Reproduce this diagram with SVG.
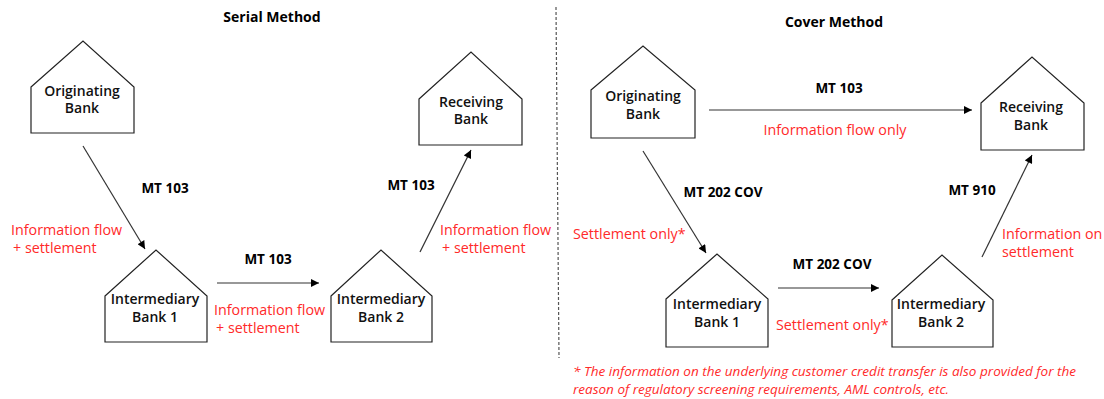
<svg xmlns="http://www.w3.org/2000/svg" width="1104" height="399" viewBox="0 0 1104 399">
<defs>
<marker id="ah" viewBox="0 0 10 10" refX="10" refY="5" markerWidth="9" markerHeight="8" markerUnits="userSpaceOnUse" orient="auto">
<path d="M0,0 L10,5 L0,10 z" fill="#000"/>
</marker>
<style>
.bank{fill:#fff;stroke:#222;stroke-width:1.2}
.nt{font-family:"Open Sans","Noto Sans",sans-serif;font-size:14px;font-weight:600;fill:#111;text-anchor:middle}
.title{font-family:"Open Sans","Noto Sans",sans-serif;font-size:14px;font-weight:bold;fill:#000;text-anchor:middle}
.mt{font-family:"Open Sans","Noto Sans",sans-serif;font-size:13.5px;font-weight:bold;fill:#000;text-anchor:middle}
.red{font-family:"Open Sans","Noto Sans",sans-serif;font-size:14.3px;fill:#ff2a2a}
.note{font-family:"Open Sans","Noto Sans",sans-serif;font-size:13.5px;font-style:italic;fill:#ff2a2a}
.conn{stroke:#333;stroke-width:1.2;fill:none;marker-end:url(#ah)}
</style>
</defs>
<rect width="1104" height="399" fill="#fff"/>
<line x1="556" y1="7" x2="559" y2="358" stroke="#555" stroke-width="1.2" stroke-dasharray="3,2"/>
<text class="title" x="272" y="22">Serial Method</text>
<text class="title" x="834" y="27">Cover Method</text>

<g id="serial-originating">
<polygon class="bank" points="31,87 83,41 134,87 134,133 31,133"/>
<text class="nt" x="82" y="96">Originating</text>
<text class="nt" x="82" y="113">Bank</text>
</g>
<g id="serial-receiving">
<polygon class="bank" points="419,99 471,52 522,99 522,145 419,145"/>
<text class="nt" x="471" y="107">Receiving</text>
<text class="nt" x="471" y="124">Bank</text>
</g>
<g id="serial-intermediary1">
<polygon class="bank" points="105,296 156,250 207,296 207,342 105,342"/>
<text class="nt" x="155" y="304">Intermediary</text>
<text class="nt" x="155" y="322">Bank 1</text>
</g>
<g id="serial-intermediary2">
<polygon class="bank" points="331,296 381,250 432,296 432,342 331,342"/>
<text class="nt" x="381" y="304">Intermediary</text>
<text class="nt" x="381" y="322">Bank 2</text>
</g>
<g id="cover-originating">
<polygon class="bank" points="591,90 643,46 695,90 695,138 591,138"/>
<text class="nt" x="643" y="101">Originating</text>
<text class="nt" x="643" y="119">Bank</text>
</g>
<g id="cover-receiving">
<polygon class="bank" points="981,103 1032,57 1084,103 1084,150 981,150"/>
<text class="nt" x="1031" y="112">Receiving</text>
<text class="nt" x="1031" y="130">Bank</text>
</g>
<g id="cover-intermediary1">
<polygon class="bank" points="666,299 717,254 768,299 768,347 666,347"/>
<text class="nt" x="717" y="309">Intermediary</text>
<text class="nt" x="717" y="327">Bank 1</text>
</g>
<g id="cover-intermediary2">
<polygon class="bank" points="892,300 942,255 993,300 993,347 892,347"/>
<text class="nt" x="941" y="309">Intermediary</text>
<text class="nt" x="941" y="327">Bank 2</text>
</g>

<g id="connectors">
<line class="conn" x1="83" y1="146" x2="145" y2="249"/>
<line class="conn" x1="217" y1="283" x2="319" y2="283"/>
<line class="conn" x1="420" y1="252" x2="471" y2="150"/>
<line class="conn" x1="643" y1="151" x2="706" y2="253"/>
<line class="conn" x1="709" y1="110" x2="972" y2="110"/>
<line class="conn" x1="778" y1="288" x2="879" y2="288"/>
<line class="conn" x1="982" y1="257" x2="1032" y2="155"/>
</g>

<g id="labels">
<text class="mt" x="165" y="193">MT 103</text>
<text class="mt" x="268" y="264">MT 103</text>
<text class="mt" x="411" y="190">MT 103</text>
<text class="mt" x="723" y="197">MT 202 COV</text>
<text class="mt" x="839" y="93">MT 103</text>
<text class="mt" x="832" y="269">MT 202 COV</text>
<text class="mt" x="972" y="195">MT 910</text>
<text class="red" x="11" y="235">Information flow</text>
<text class="red" x="13" y="253">+ settlement</text>
<text class="red" x="214" y="315">Information flow</text>
<text class="red" x="216" y="333">+ settlement</text>
<text class="red" x="440" y="235">Information flow</text>
<text class="red" x="442" y="253">+ settlement</text>
<text class="red" x="573" y="239">Settlement only*</text>
<text class="red" x="835" y="135" text-anchor="middle">Information flow only</text>
<text class="red" x="776" y="330">Settlement only*</text>
<text class="red" x="1002" y="239">Information on</text>
<text class="red" x="1002" y="257">settlement</text>
<text class="note" x="573" y="376" textLength="503" lengthAdjust="spacingAndGlyphs">* The information on the underlying customer credit transfer is also provided for the</text>
<text class="note" x="573" y="394" textLength="376" lengthAdjust="spacingAndGlyphs">reason of regulatory screening requirements, AML controls, etc.</text>
</g>
</svg>
